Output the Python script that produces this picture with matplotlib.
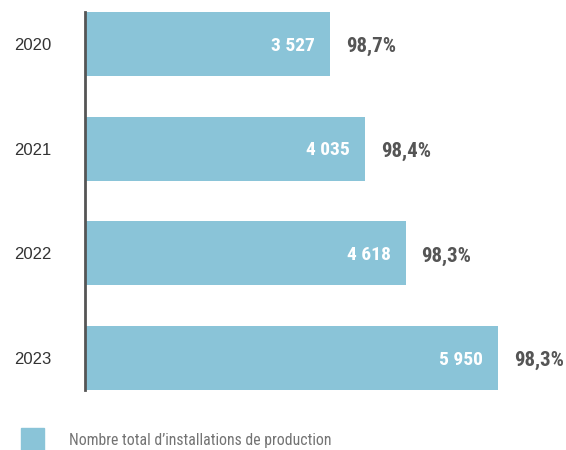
import matplotlib
matplotlib.use("Agg")
import matplotlib.pyplot as plt
from matplotlib.patches import Rectangle

years = ["2020", "2021", "2022", "2023"]
values = [3527, 4035, 4618, 5950]
value_labels = ["3 527", "4 035", "4 618", "5 950"]
pct_labels = ["98,7%", "98,4%", "98,3%", "98,3%"]
legend_label = "Nombre total d\u2019installations de production"

BAR = "#8AC4D8"
NARROW = ["Roboto Condensed", "DejaVu Sans"]
REG = ["Liberation Sans", "DejaVu Sans"]

W, H = 566, 450
fig = plt.figure(figsize=(W / 100, H / 100), dpi=100)
ax = fig.add_axes([85 / W, (H - 390) / H, 481 / W, 378 / H])

h = 0.61
pos = list(range(len(years)))
ax.barh(pos, values, height=h, color=BAR, zorder=1)
ax.set_xlim(0, 6930)
ax.set_ylim(len(years) - 1 + h / 2, -h / 2)

for spine in ["top", "right", "bottom"]:
    ax.spines[spine].set_visible(False)
ax.spines["left"].set_color("#555555")
ax.spines["left"].set_linewidth(2)
ax.spines["left"].set_zorder(3)
ax.set_xticks([])
ax.set_yticks(pos)
ax.set_yticklabels(years, fontfamily=REG, fontsize=12, color="#333333")
ax.tick_params(axis="y", length=0, pad=37.5)
for lbl in ax.get_yticklabels():
    lbl.set_horizontalalignment("center")

for i, (v, vl, pl) in enumerate(zip(values, value_labels, pct_labels)):
    ax.annotate(vl, (v, i), xytext=(-10.8, -1.2), textcoords="offset points",
                ha="right", va="center", color="white", fontweight="bold",
                fontsize=14, fontfamily=NARROW)
    ax.annotate(pl, (v, i), xytext=(11.5, -2), textcoords="offset points",
                ha="left", va="center", color="#555555", fontweight="bold",
                fontsize=15, fontfamily=NARROW)

fig.patches.append(Rectangle((21 / W, (H - 451) / H), 23 / W, 23 / H,
                             transform=fig.transFigure, color=BAR))
fig.text(69 / W, (H - 441) / H, legend_label, fontfamily=NARROW, fontsize=11.3,
         color="#737373", va="center", ha="left")

fig.savefig("out.png", dpi=100)
